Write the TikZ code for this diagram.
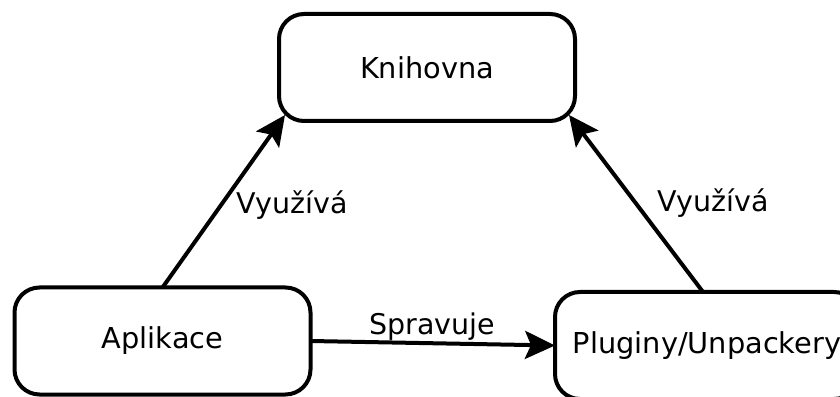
\documentclass[tikz,border=0pt]{standalone}
\usepackage{fontspec}
\setmainfont{DejaVu Sans}
\usetikzlibrary{arrows.meta,calc}
\begin{document}
\begin{tikzpicture}[x=1pt,y=1pt,
  box/.style={draw=black,line width=4pt,rounded corners=25pt,minimum width=296pt,minimum height=107pt,outer sep=0pt,inner sep=0pt,font=\fontsize{28.8}{34}\selectfont},
  lbl/.style={font=\fontsize{28.5}{34}\selectfont,inner sep=0pt},
  conn/.style={line width=4pt,-{Stealth[length=30pt,width=28pt,inset=6pt]}}]
\useasboundingbox (0,0) rectangle (840,396);
\node[box] (kn) at (427,328.5) {Knihovna};
\node[box] (ap) at (162.5,55) {Aplikace};
\node[box,minimum width=304pt] (pl) at (707,50.5) {Pluginy/Unpackery};
\coordinate (k1) at ($(kn.south west)+(6,6)$);
\coordinate (k2) at ($(kn.south east)+(-6,6)$);
\coordinate (p1) at ($(pl.north)+(-4,0)$);
\draw[conn] (ap.north) -- (k1);
\draw[conn] (p1) -- (k2);
\draw[conn] (ap.east) -- (pl.west);
\node[lbl] (l1) at (292,191) {Využívá};
\node[lbl] (l2) at (713,193) {Využívá};
\node[lbl] (l3) at (432,69) {Spravuje};
\end{tikzpicture}
\end{document}
